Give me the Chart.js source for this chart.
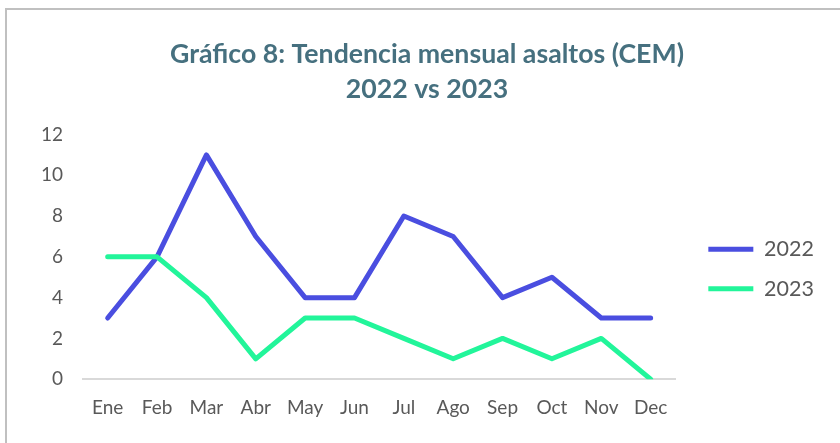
<!DOCTYPE html>
<html>
<head>
<meta charset="utf-8">
<script src="https://cdn.jsdelivr.net/npm/chart.js@4"></script>
<style>
	body { margin: 0; background: #fff; }
	#wrap { position: relative; width: 840px; height: 443px; overflow: hidden; }
	#frame { position: absolute; left: 5px; top: 8px; width: 900px; height: 500px; border: 2px solid #c0c0c0; }
	#view { position: absolute; left: 0; top: 0; }
</style>
</head>
<body>
<div id="wrap">
	<div id="frame"></div>
	<canvas id="view" width="840" height="443"></canvas>
</div>
<script>
const meses = ["Ene","Feb","Mar","Abr","May","Jun","Jul","Ago","Sep","Oct","Nov","Dec"];
const asaltos2022 = [3,6,11,7,4,4,8,7,4,5,3,3];
const asaltos2023 = [6,6,4,1,3,3,2,1,2,1,2,0];
const titulo = ["Gráfico 8: Tendencia mensual asaltos (CEM)","2022 vs 2023"];

Chart.defaults.font.family = "Lato, 'Open Sans', sans-serif";
Chart.defaults.color = "#595959";

function serie(nombre, datos, color, orden) {
	return {
		label: nombre,
		data: datos,
		order: orden,
		borderColor: color,
		backgroundColor: color,
		borderWidth: 5,
		borderCapStyle: "round",
		borderJoinStyle: "round",
		pointRadius: 0,
		tension: 0
	};
}

new Chart(document.getElementById("view"), {
	type: "line",
	data: {
		labels: meses,
		datasets: [
			serie("2022", asaltos2022, "#4A4EE0", 1),
			serie("2023", asaltos2023, "#22F59A", 0)
		]
	},
	options: {
		responsive: false,
		animation: false,
		layout: { padding: { left: 32, right: 18, top: 0, bottom: 7 } },
		plugins: {
			title: {
				display: true,
				text: titulo,
				color: "#46707F",
				font: { size: 26.7, weight: "bold", lineHeight: 1.32 },
				padding: { top: 37, bottom: 27 }
			},
			legend: {
				position: "right",
				// titulo vacío: sólo baja las entradas de la leyenda
				title: { display: true, text: "", font: { size: 10 }, padding: { top: 90, bottom: 0 } },
				labels: {
					sort: function (a, b) { return a.datasetIndex - b.datasetIndex; },
					usePointStyle: true,
					pointStyle: "line",
					pointStyleWidth: 45,
					padding: 18,
					font: { size: 21.5 },
					color: "#595959"
				}
			},
			tooltip: { enabled: false }
		},
		scales: {
			x: {
				offset: true,
				grid: { display: false, drawTicks: false },
				border: { display: true, color: "#d9d9d9", width: 2 },
				ticks: { font: { size: 19 }, padding: 17, maxRotation: 0 }
			},
			y: {
				min: 0,
				max: 12,
				grid: { display: false, drawTicks: false },
				border: { display: false },
				ticks: { stepSize: 2, font: { size: 19 }, padding: 20 },
				afterFit: function (s) { s.width = 51; }
			},
			// hueco entre el área del gráfico y la leyenda
			hueco: {
				type: "linear",
				position: "right",
				grid: { display: false, drawTicks: false },
				border: { display: false },
				ticks: { display: false },
				afterFit: function (s) { s.width = 15; }
			}
		}
	}
});
</script>
</body>
</html>
